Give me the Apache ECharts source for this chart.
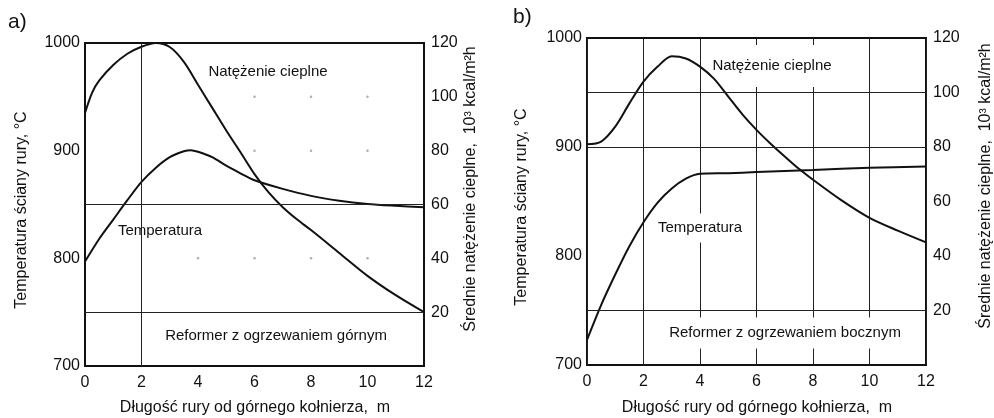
<!DOCTYPE html>
<html>
<head>
<meta charset="utf-8">
<script src="https://cdn.jsdelivr.net/npm/echarts@6/dist/echarts.min.js"></script>
<style>
  html, body { margin: 0; padding: 0; background: #fff; }
  #chart { width: 994px; height: 418px; }
</style>
</head>
<body>
<div id="chart"></div>
<script>
// Panel a) – reformer heated from the top
const posFluxA  = [0, 0.25, 0.5, 1, 1.5, 2, 2.5, 3, 3.5, 4, 4.5, 5, 5.5, 6, 6.5, 7, 7.5, 8, 9, 10, 11, 12];
const fluxA     = [94, 101.5, 106, 111.8, 116, 118.6, 120, 118.5, 113, 104.5, 96, 87.5, 79.5, 71.3, 64.5, 59, 54.5, 50.5, 42, 33.5, 26.3, 20];
const posTempA  = [0, 0.5, 1, 1.5, 2, 2.5, 3, 3.5, 3.75, 4, 4.5, 5, 5.5, 6, 7, 8, 9, 10, 11, 12];
const tempA     = [797, 818, 836, 854, 871, 884, 894, 899.5, 900.5, 899, 894, 886, 879, 872.5, 864.5, 858, 853.5, 850.5, 848.8, 847.5];
// faint grid dots left in panel a)
const dotsA     = [[6, 100], [8, 100], [10, 100], [6, 80], [8, 80], [10, 80], [4, 40], [6, 40], [8, 40], [10, 40]];
const refLinesFluxA = [60, 20];
const refLinesPosA  = [2];

// Panel b) – reformer heated from the side
const posFluxB  = [0, 0.5, 1, 1.5, 2, 2.5, 3, 3.5, 4, 4.5, 5, 5.5, 6, 6.5, 7, 7.5, 8, 9, 10, 11, 12];
const fluxB     = [81, 82, 87.5, 96, 104, 109.5, 113.3, 112.5, 109.5, 105, 98.5, 92, 86.3, 81.2, 76.5, 72, 68, 60.5, 54, 49.3, 45];
const posTempB  = [0, 0.5, 1, 1.5, 2, 2.5, 3, 3.5, 4, 5, 6, 8, 10, 12];
const tempB     = [723, 755, 783, 809, 831, 849, 862, 871, 875.5, 876, 877, 879, 881, 882];
const refLinesFluxB = [100, 80, 20];

// Axis ticks
const xTicks    = { min: 0, max: 12, step: 2 };
const tempTicks = { min: 700, max: 1000, step: 100 };
const fluxTicks = { min: 0, max: 120, step: 20 };

const FONT = '"Liberation Sans", Arial, sans-serif';
const INK = '#111';

const chart = echarts.init(document.getElementById('chart'), null, { renderer: 'canvas' });

const pairs = (xs, ys) => xs.map((x, i) => [x, ys[i]]);

function xAxisFor(gridIndex, showSplit) {
  return {
    type: 'value', gridIndex,
    min: xTicks.min, max: xTicks.max, interval: xTicks.step,
    axisLine: { show: false }, axisTick: { show: false },
    axisLabel: { fontFamily: FONT, fontSize: 16, color: INK, margin: 9 },
    splitLine: { show: showSplit, lineStyle: { color: '#222', width: 1 } }
  };
}
function tempAxisFor(gridIndex) {
  return {
    type: 'value', gridIndex, position: 'left',
    min: tempTicks.min, max: tempTicks.max, interval: tempTicks.step,
    axisLine: { show: false }, axisTick: { show: false },
    axisLabel: { fontFamily: FONT, fontSize: 16, color: INK, margin: 5, formatter: v => String(v) },
    splitLine: { show: false }
  };
}
function fluxAxisFor(gridIndex) {
  return {
    type: 'value', gridIndex, position: 'right',
    min: fluxTicks.min, max: fluxTicks.max, interval: fluxTicks.step,
    axisLine: { show: false }, axisTick: { show: false },
    axisLabel: { fontFamily: FONT, fontSize: 16, color: INK, margin: 7,
                 formatter: v => (v === 0 ? '' : String(v)) },
    splitLine: { show: false }
  };
}

const curveStyle = { color: INK, width: 2 };
const refStyle = { color: '#222', width: 1, type: 'solid' };

// reference lines live in their own empty series so they sit under the text boxes
function refSeries(xi, yi, list, key) {
  return {
    type: 'line', xAxisIndex: xi, yAxisIndex: yi, data: [], z: 1, silent: true,
    markLine: {
      silent: true, symbol: 'none', animation: false,
      label: { show: false }, lineStyle: refStyle,
      data: list.map(v => ({ [key]: v }))
    }
  };
}

function curve(name, xi, yi, data) {
  return {
    name, type: 'line', xAxisIndex: xi, yAxisIndex: yi,
    data, smooth: 0.3, symbol: 'none', lineStyle: curveStyle, z: 3
  };
}

function label(text, x, y, padding, size) {
  return {
    type: 'text', x, y, z: 2,
    style: {
      text, fontFamily: FONT, fontSize: size || 15, fill: INK,
      align: 'center', verticalAlign: 'middle',
      backgroundColor: '#fff', padding: padding || [2, 3]
    }
  };
}
function vtitle(text, x, y) {
  return {
    type: 'text', x, y, rotation: Math.PI / 2, z: 100,
    style: { text, fontFamily: FONT, fontSize: 16, fill: INK, align: 'center', verticalAlign: 'middle' }
  };
}

const option = {
  animation: false,
  backgroundColor: '#fff',
  grid: [
    { left: 85, top: 43, width: 339, height: 323, show: true, borderColor: INK, borderWidth: 2, backgroundColor: 'transparent' },
    { left: 587, top: 38, width: 339, height: 327, show: true, borderColor: INK, borderWidth: 2, backgroundColor: 'transparent' }
  ],
  xAxis: [xAxisFor(0, false), xAxisFor(1, true)],
  yAxis: [tempAxisFor(0), fluxAxisFor(0), tempAxisFor(1), fluxAxisFor(1)],
  series: [
    {
      type: 'scatter', xAxisIndex: 0, yAxisIndex: 1, data: dotsA,
      symbolSize: 2.5, itemStyle: { color: '#9a9a9a' }, silent: true, z: 1
    },
    refSeries(0, 1, refLinesFluxA, 'yAxis'),
    refSeries(0, 1, refLinesPosA, 'xAxis'),
    refSeries(1, 3, refLinesFluxB, 'yAxis'),
    curve('Natężenie cieplne a', 0, 1, pairs(posFluxA, fluxA)),
    curve('Temperatura a', 0, 0, pairs(posTempA, tempA)),
    curve('Natężenie cieplne b', 1, 3, pairs(posFluxB, fluxB)),
    curve('Temperatura b', 1, 2, pairs(posTempB, tempB))
  ],
  graphic: [
    { type: 'text', x: 8, y: 22, z: 100, style: { text: 'a)', fontFamily: FONT, fontSize: 21, fill: INK, verticalAlign: 'middle' } },
    { type: 'text', x: 513, y: 17, z: 100, style: { text: 'b)', fontFamily: FONT, fontSize: 21, fill: INK, verticalAlign: 'middle' } },

    label('Natężenie cieplne', 268, 72),
    label('Temperatura', 160, 231),
    label('Reformer z ogrzewaniem górnym', 276, 336),

    label('Natężenie cieplne', 772, 66, [20, 5, 7, 5]),
    label('Temperatura', 700, 228, [7, 4, 7, 4]),
    label('Reformer z ogrzewaniem bocznym', 785, 333, [8, 4, 8, 4]),

    { type: 'text', x: 255, y: 408, z: 100, style: { text: 'Długość rury od górnego kołnierza,  m', fontFamily: FONT, fontSize: 16, fill: INK, align: 'center', verticalAlign: 'middle' } },
    { type: 'text', x: 757, y: 408, z: 100, style: { text: 'Długość rury od górnego kołnierza,  m', fontFamily: FONT, fontSize: 16, fill: INK, align: 'center', verticalAlign: 'middle' } },

    vtitle('Temperatura ściany rury, °C', 22, 210),
    vtitle('Średnie natężenie cieplne,  10³ kcal/m²h', 471, 189),
    vtitle('Temperatura ściany rury, °C', 522, 207),
    vtitle('Średnie natężenie cieplne,  10³ kcal/m²h', 986, 186)
  ]
};

chart.setOption(option);
</script>
</body>
</html>
